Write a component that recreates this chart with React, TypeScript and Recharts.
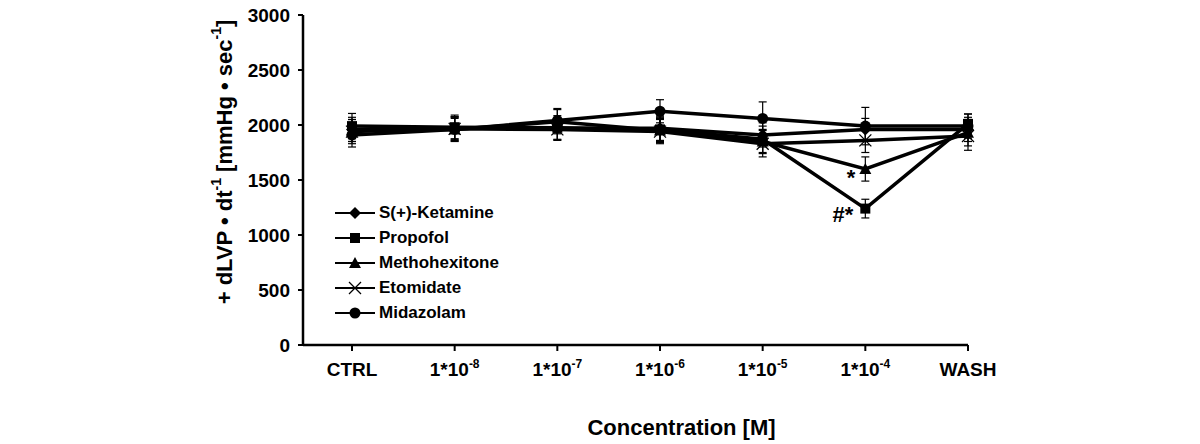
import { LineChart, Line, XAxis, YAxis, ErrorBar, Legend, ReferenceDot } from "recharts";

const categories = ["CTRL", "1*10-8", "1*10-7", "1*10-6", "1*10-5", "1*10-4", "WASH"];

const ketamine = [1960, 1975, 1970, 1970, 1910, 1960, 1960];
const ketamineErr = [110, 100, 100, 110, 110, 100, 110];
const propofol = [1990, 1980, 1975, 1960, 1870, 1240, 2010];
const propofolErr = [115, 110, 110, 110, 120, 85, 90];
const methohexitone = [1950, 1960, 2030, 1950, 1850, 1600, 1930];
const methohexitoneErr = [100, 110, 110, 110, 110, 110, 120];
const etomidate = [1940, 1965, 1960, 1940, 1830, 1860, 1900];
const etomidateErr = [110, 110, 100, 110, 120, 110, 130];
const midazolam = [1910, 1960, 2040, 2125, 2060, 1990, 1990];
const midazolamErr = [110, 100, 110, 105, 150, 170, 110];

const yTicks = [0, 500, 1000, 1500, 2000, 2500, 3000];

const data = categories.map((c, i) => ({
  cat: c,
  ket: ketamine[i],
  ketErr: ketamineErr[i],
  pro: propofol[i],
  proErr: propofolErr[i],
  met: methohexitone[i],
  metErr: methohexitoneErr[i],
  eto: etomidate[i],
  etoErr: etomidateErr[i],
  mid: midazolam[i],
  midErr: midazolamErr[i],
}));

type Shape = "diamond" | "square" | "triangle" | "cross" | "circle";

const series: { key: string; name: string; shape: Shape }[] = [
  { key: "ket", name: "S(+)-Ketamine", shape: "diamond" },
  { key: "pro", name: "Propofol", shape: "square" },
  { key: "met", name: "Methohexitone", shape: "triangle" },
  { key: "eto", name: "Etomidate", shape: "cross" },
  { key: "mid", name: "Midazolam", shape: "circle" },
];

const FONT = "'Liberation Sans', Arial, sans-serif";

function Marker({ shape, cx, cy }: { shape: Shape; cx: number; cy: number }) {
  if (cx == null || cy == null) return null;
  switch (shape) {
    case "diamond":
      return <polygon points={`${cx},${cy - 6} ${cx + 6},${cy} ${cx},${cy + 6} ${cx - 6},${cy}`} fill="#000" />;
    case "square":
      return <rect x={cx - 5} y={cy - 5} width={10} height={10} fill="#000" />;
    case "triangle":
      return <polygon points={`${cx},${cy - 6} ${cx + 6},${cy + 5} ${cx - 6},${cy + 5}`} fill="#000" />;
    case "cross":
      return (
        <g stroke="#000" strokeWidth={1.3}>
          <line x1={cx - 6} y1={cy - 6} x2={cx + 6} y2={cy + 6} />
          <line x1={cx - 6} y1={cy + 6} x2={cx + 6} y2={cy - 6} />
        </g>
      );
    default:
      return <circle cx={cx} cy={cy} r={5.5} fill="#000" />;
  }
}

function XTick({ x, y, payload }: any) {
  const v: string = payload.value;
  const m = v.match(/^1\*10(-\d)$/);
  return (
    <g>
      <line x1={x} y1={y - 14} x2={x} y2={y - 8} stroke="#000" strokeWidth={2} />
      <text x={x} y={y} dy={17} textAnchor="middle" fontFamily={FONT} fontWeight="bold" fontSize={19} fill="#000">
        {m ? (
          <>
            1*10
            <tspan fontSize={12} dy={-8}>{m[1]}</tspan>
          </>
        ) : (
          v
        )}
      </text>
    </g>
  );
}

function LegendBox() {
  return (
    <div style={{ fontFamily: FONT, fontWeight: "bold", fontSize: 17, color: "#000" }}>
      {series.map((s) => (
        <div key={s.key} style={{ height: 25, display: "flex", alignItems: "center" }}>
          <svg width={42} height={20} style={{ display: "block" }}>
            <line x1={0} y1={10} x2={40} y2={10} stroke="#000" strokeWidth={2} />
            <Marker shape={s.shape} cx={20} cy={10} />
          </svg>
          <span style={{ marginLeft: 2 }}>{s.name}</span>
        </div>
      ))}
    </div>
  );
}

export default function App() {
  return (
    <div style={{ width: 1200, height: 444, background: "#fff" }}>
      <style>{"body{margin:0}"}</style>
      <LineChart width={1200} height={444} data={data} margin={{ top: 15, right: 232, bottom: 59, left: 228 }}>
        <XAxis
          dataKey="cat"
          type="category"
          padding={{ left: 49, right: 0 }}
          axisLine={{ stroke: "#000", strokeWidth: 2.5 }}
          tickLine={false}
          tickSize={6}
          tickMargin={8}
          height={40}
          interval={0}
          tick={<XTick />}
          label={{
            content: ({ viewBox }: any) => (
              <text
                x={viewBox.x + viewBox.width / 2 + 46}
                y={viewBox.y + 90}
                textAnchor="middle"
                fontFamily={FONT}
                fontWeight="bold"
                fontSize={22}
                fill="#000"
              >
                Concentration [M]
              </text>
            ),
          }}
        />
        <YAxis
          domain={[0, 3000]}
          ticks={yTicks}
          width={75}
          axisLine={{ stroke: "#000", strokeWidth: 2.5 }}
          tickLine={{ stroke: "#000", strokeWidth: 2 }}
          tickSize={5}
          tickMargin={8}
          tick={{ fontFamily: FONT, fontWeight: "bold", fontSize: 19, fill: "#000" }}
          label={{
            content: ({ viewBox }: any) => {
              const cx = viewBox.x - 4;
              const cy = viewBox.y + viewBox.height / 2 - 18;
              return (
                <text
                  x={cx}
                  y={cy}
                  transform={`rotate(-90 ${cx} ${cy})`}
                  textAnchor="middle"
                  dominantBaseline="central"
                  fontFamily={FONT}
                  fontWeight="bold"
                  fontSize={22}
                  fill="#000"
                >
                  + dLVP • dt
                  <tspan fontSize={14} dy={-8}>-1</tspan>
                  <tspan dy={8}> [mmHg • sec</tspan>
                  <tspan fontSize={14} dy={-8}>-1</tspan>
                  <tspan dy={8}>]</tspan>
                </text>
              );
            },
          }}
        />
        <Legend
          layout="horizontal"
          verticalAlign="middle"
          align="center"
          content={() => <LegendBox />}
          wrapperStyle={{ left: 335, top: 200, width: 220 }}
        />
        {series.map((s) => (
          <Line
            key={s.key}
            dataKey={s.key}
            name={s.name}
            stroke="#000"
            strokeWidth={3.5}
            isAnimationActive={false}
            dot={(p: any) => <Marker key={`${s.key}-${p.index}`} shape={s.shape} cx={p.cx} cy={p.cy} />}
            activeDot={false}
          >
            <ErrorBar dataKey={`${s.key}Err`} direction="y" width={4} stroke="#000" strokeWidth={1.2} />
          </Line>
        ))}
        <ReferenceDot
          x={categories[5]}
          y={methohexitone[5]}
          r={0}
          stroke="none"
          label={{
            content: ({ viewBox }: any) => (
              <text x={viewBox.x - 10} y={viewBox.y + 16} textAnchor="end" fontFamily={FONT} fontWeight="bold" fontSize={22} fill="#000">
                *
              </text>
            ),
          }}
        />
        <ReferenceDot
          x={categories[5]}
          y={propofol[5]}
          r={0}
          stroke="none"
          label={{
            content: ({ viewBox }: any) => (
              <text x={viewBox.x - 12} y={viewBox.y + 13} textAnchor="end" fontFamily={FONT} fontWeight="bold" fontSize={22} fill="#000">
                #*
              </text>
            ),
          }}
        />
      </LineChart>
    </div>
  );
}
